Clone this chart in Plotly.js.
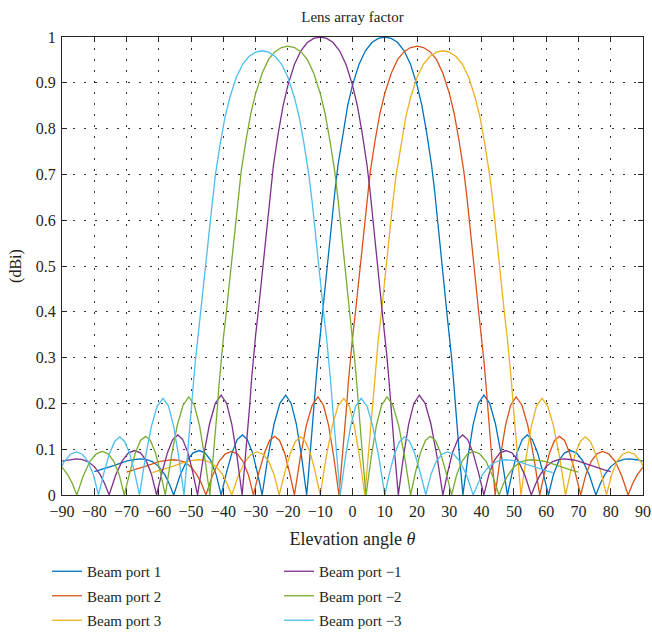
<!DOCTYPE html>
<html>
<head>
<meta charset="utf-8">
<script src="https://cdn.plot.ly/plotly-3.0.1.min.js"></script>
<style>html,body{margin:0;padding:0;background:#fff;}#chart{width:652px;height:635px;}</style>
</head>
<body>
<div id="chart"></div>
<script>
// ---- Data ----
const xTicks = [-90,-80,-70,-60,-50,-40,-30,-20,-10,0,10,20,30,40,50,60,70,80,90];
const xTickText = ['\u221290','\u221280','\u221270','\u221260','\u221250','\u221240','\u221230','\u221220','\u221210','0','10','20','30','40','50','60','70','80','90'];
const yTicks = [0,0.1,0.2,0.3,0.4,0.5,0.6,0.7,0.8,0.9,1];
const yTickText = ['0','0.1','0.2','0.3','0.4','0.5','0.6','0.7','0.8','0.9','1'];

const seriesNames = ['Beam port 1','Beam port 2','Beam port 3','Beam port \u22121','Beam port \u22122','Beam port \u22123'];

// Beam port 1
const beam1X = [-80,-78,-76,-74,-72,-70,-68,-65.7,-64,-62,-60,-58.2,-56.8,-55.4,-53.4,-51.4,-49.4,-47.5,-45.7,-44,-42.3,-40.7,-39,-37.3,-35.7,-34.1,-32.6,-31,-29.5,-28,-26.2,-24.3,-22.5,-20.7,-19,-17.4,-15.8,-14.2,-13.7,-13.2,-12.5,-11.8,-11.3,-10.7,-10,-9.2,-8.5,-7.8,-7,-6.3,-5.5,-4.5,-3,-1.5,0,2,4,6,8,
  10,
  12,14,16,18,20,21.5,23,24.5,25.5,26.3,27,27.8,28.5,29.2,30,30.7,31.3,31.8,32.5,33.2,33.7,34.2,35.8,37.4,39,40.7,42.5,44.3,46.2,48,49.5,51,52.6,54.1,55.7,57.3,59,60.7,62.3,64,65.7,67.5,69.4,71.4,73.4,75.4,76.8,78.2,80,82,84,85.7,88,90];
const beam1Y = [0.051,0.055,0.06,0.064,0.069,0.074,0.077,0.079,0.078,0.073,0.062,0.045,0.025,0,0.043,0.074,0.092,0.097,0.092,0.076,0.046,0,0.05,0.093,0.121,0.131,0.121,0.093,0.05,0,0.083,0.155,0.2,0.218,0.2,0.155,0.085,0,0.04,0.08,0.14,0.2,0.25,0.3,0.35,0.4,0.45,0.5,0.55,0.6,0.66,0.72,0.79,0.85,0.895,0.94,0.97,0.988,0.997,
  1.0,
  0.997,0.988,0.97,0.94,0.895,0.85,0.79,0.72,0.66,0.6,0.55,0.5,0.45,0.4,0.35,0.3,0.25,0.2,0.14,0.08,0.04,0,0.085,0.155,0.2,0.218,0.2,0.155,0.083,0,0.05,0.093,0.121,0.131,0.121,0.093,0.05,0,0.046,0.076,0.092,0.097,0.092,0.074,0.043,0,0.025,0.045,0.062,0.073,0.078,0.079,0.077,0.074];

// Beam port 2
const beam2X = [-70,-68,-66,-64,-62,-60,-58,-55.7,-54,-52,-50,-48.2,-46.8,-45.4,-43.4,-41.4,-39.4,-37.5,-35.7,-34,-32.3,-30.7,-29,-27.3,-25.7,-24.1,-22.6,-21,-19.5,-18,-16.2,-14.3,-12.5,-10.7,-9,-7.4,-5.8,-4.2,-3.7,-3.2,-2.5,-1.8,-1.3,-0.7,0,0.8,1.5,2.2,3,3.7,4.5,5.5,7,8.5,10,12,14,16,18,
  20,
  22,24,26,28,30,31.5,33,34.5,35.5,36.3,37,37.8,38.5,39.2,40,40.7,41.3,41.8,42.5,43.2,43.7,44.2,45.8,47.4,49,50.7,52.5,54.3,56.2,58,59.5,61,62.6,64.1,65.7,67.3,69,70.7,72.3,74,75.7,77.5,79.4,81.4,83.4,85.4,86.8,88.2,90];
const beam2Y = [0.05,0.054,0.059,0.063,0.068,0.073,0.075,0.077,0.076,0.072,0.061,0.044,0.025,0,0.042,0.073,0.09,0.095,0.09,0.074,0.045,0,0.049,0.091,0.119,0.128,0.119,0.091,0.049,0,0.081,0.152,0.196,0.214,0.196,0.152,0.083,0,0.039,0.078,0.137,0.196,0.245,0.294,0.343,0.392,0.441,0.49,0.539,0.588,0.647,0.706,0.774,0.833,0.877,0.921,0.951,0.968,0.977,
  0.98,
  0.977,0.968,0.951,0.921,0.877,0.833,0.774,0.706,0.647,0.588,0.539,0.49,0.441,0.392,0.343,0.294,0.245,0.196,0.137,0.078,0.039,0,0.083,0.152,0.196,0.214,0.196,0.152,0.081,0,0.049,0.091,0.119,0.128,0.119,0.091,0.049,0,0.045,0.074,0.09,0.095,0.09,0.073,0.042,0,0.025,0.044,0.061];

// Beam port 3
const beam3X = [-62,-60,-58,-56,-54,-52,-50,-47.7,-46,-44,-42,-40.2,-38.8,-37.4,-35.4,-33.4,-31.4,-29.5,-27.7,-26,-24.3,-22.7,-21,-19.3,-17.7,-16.1,-14.6,-13,-11.5,-10,-8.2,-6.3,-4.5,-2.7,-1,0.6,2.2,3.8,4.3,4.8,5.5,6.2,6.7,7.3,8,8.8,9.5,10.2,11,11.7,12.5,13.5,15,16.5,18,20,22,24,26,
  28,
  30,32,34,36,38,39.5,41,42.5,43.5,44.3,45,45.8,46.5,47.2,48,48.7,49.3,49.8,50.5,51.2,51.7,52.2,53.8,55.4,57,58.7,60.5,62.3,64.2,66,67.5,69,70.6,72.1,73.7,75.3,77,78.7,80.3,82,83.7,85.5,87.4,89.4,90];
const beam3Y = [0.049,0.053,0.058,0.062,0.067,0.072,0.075,0.077,0.076,0.071,0.06,0.044,0.024,0,0.042,0.072,0.089,0.094,0.089,0.074,0.045,0,0.049,0.09,0.117,0.127,0.117,0.09,0.049,0,0.081,0.15,0.194,0.211,0.194,0.15,0.082,0,0.039,0.078,0.136,0.194,0.243,0.291,0.34,0.388,0.437,0.485,0.534,0.582,0.64,0.698,0.766,0.825,0.868,0.912,0.941,0.958,0.967,
  0.97,
  0.967,0.958,0.941,0.912,0.868,0.825,0.766,0.698,0.64,0.582,0.534,0.485,0.437,0.388,0.34,0.291,0.243,0.194,0.136,0.078,0.039,0,0.082,0.15,0.194,0.211,0.194,0.15,0.081,0,0.049,0.09,0.117,0.127,0.117,0.09,0.049,0,0.045,0.074,0.089,0.094,0.089,0.072,0.063];

// Beam port -1
const beamM1X = [-90,-88,-85.7,-84,-82,-80,-78.2,-76.8,-75.4,-73.4,-71.4,-69.4,-67.5,-65.7,-64,-62.3,-60.7,-59,-57.3,-55.7,-54.1,-52.6,-51,-49.5,-48,-46.2,-44.3,-42.5,-40.7,-39,-37.4,-35.8,-34.2,-33.7,-33.2,-32.5,-31.8,-31.3,-30.7,-30,-29.2,-28.5,-27.8,-27,-26.3,-25.5,-24.5,-23,-21.5,-20,-18,-16,-14,-12,
  -10,
  -8,-6,-4,-2,0,1.5,3,4.5,5.5,6.3,7,7.8,8.5,9.2,10,10.7,11.3,11.8,12.5,13.2,13.7,14.2,15.8,17.4,19,20.7,22.5,24.3,26.2,28,29.5,31,32.6,34.1,35.7,37.3,39,40.7,42.3,44,45.7,47.5,49.4,51.4,53.4,55.4,56.8,58.2,60,62,64,65.7,68,70,72,74,76,78,80];
const beamM1Y = [0.074,0.077,0.079,0.078,0.073,0.062,0.045,0.025,0,0.043,0.074,0.092,0.097,0.092,0.076,0.046,0,0.05,0.093,0.121,0.131,0.121,0.093,0.05,0,0.083,0.155,0.2,0.218,0.2,0.155,0.085,0,0.04,0.08,0.14,0.2,0.25,0.3,0.35,0.4,0.45,0.5,0.55,0.6,0.66,0.72,0.79,0.85,0.895,0.94,0.97,0.988,0.997,
  1.0,
  0.997,0.988,0.97,0.94,0.895,0.85,0.79,0.72,0.66,0.6,0.55,0.5,0.45,0.4,0.35,0.3,0.25,0.2,0.14,0.08,0.04,0,0.085,0.155,0.2,0.218,0.2,0.155,0.083,0,0.05,0.093,0.121,0.131,0.121,0.093,0.05,0,0.046,0.076,0.092,0.097,0.092,0.074,0.043,0,0.025,0.045,0.062,0.073,0.078,0.079,0.077,0.074,0.069,0.064,0.06,0.055,0.051];

// Beam port -2
const beamM2X = [-90,-88.2,-86.8,-85.4,-83.4,-81.4,-79.4,-77.5,-75.7,-74,-72.3,-70.7,-69,-67.3,-65.7,-64.1,-62.6,-61,-59.5,-58,-56.2,-54.3,-52.5,-50.7,-49,-47.4,-45.8,-44.2,-43.7,-43.2,-42.5,-41.8,-41.3,-40.7,-40,-39.2,-38.5,-37.8,-37,-36.3,-35.5,-34.5,-33,-31.5,-30,-28,-26,-24,-22,
  -20,
  -18,-16,-14,-12,-10,-8.5,-7,-5.5,-4.5,-3.7,-3,-2.2,-1.5,-0.8,0,0.7,1.3,1.8,2.5,3.2,3.7,4.2,5.8,7.4,9,10.7,12.5,14.3,16.2,18,19.5,21,22.6,24.1,25.7,27.3,29,30.7,32.3,34,35.7,37.5,39.4,41.4,43.4,45.4,46.8,48.2,50,52,54,55.7,58,60,62,64,66,68,70];
const beamM2Y = [0.061,0.044,0.025,0,0.042,0.073,0.09,0.095,0.09,0.074,0.045,0,0.049,0.091,0.119,0.128,0.119,0.091,0.049,0,0.081,0.152,0.196,0.214,0.196,0.152,0.083,0,0.039,0.078,0.137,0.196,0.245,0.294,0.343,0.392,0.441,0.49,0.539,0.588,0.647,0.706,0.774,0.833,0.877,0.921,0.951,0.968,0.977,
  0.98,
  0.977,0.968,0.951,0.921,0.877,0.833,0.774,0.706,0.647,0.588,0.539,0.49,0.441,0.392,0.343,0.294,0.245,0.196,0.137,0.078,0.039,0,0.083,0.152,0.196,0.214,0.196,0.152,0.081,0,0.049,0.091,0.119,0.128,0.119,0.091,0.049,0,0.045,0.074,0.09,0.095,0.09,0.073,0.042,0,0.025,0.044,0.061,0.072,0.076,0.077,0.075,0.073,0.068,0.063,0.059,0.054,0.05];

// Beam port -3
const beamM3X = [-90,-89.4,-87.4,-85.5,-83.7,-82,-80.3,-78.7,-77,-75.3,-73.7,-72.1,-70.6,-69,-67.5,-66,-64.2,-62.3,-60.5,-58.7,-57,-55.4,-53.8,-52.2,-51.7,-51.2,-50.5,-49.8,-49.3,-48.7,-48,-47.2,-46.5,-45.8,-45,-44.3,-43.5,-42.5,-41,-39.5,-38,-36,-34,-32,-30,
  -28,
  -26,-24,-22,-20,-18,-16.5,-15,-13.5,-12.5,-11.7,-11,-10.2,-9.5,-8.8,-8,-7.3,-6.7,-6.2,-5.5,-4.8,-4.3,-3.8,-2.2,-0.6,1,2.7,4.5,6.3,8.2,10,11.5,13,14.6,16.1,17.7,19.3,21,22.7,24.3,26,27.7,29.5,31.4,33.4,35.4,37.4,38.8,40.2,42,44,46,47.7,50,52,54,56,58,60,62];
const beamM3Y = [0.063,0.072,0.089,0.094,0.089,0.074,0.045,0,0.049,0.09,0.117,0.127,0.117,0.09,0.049,0,0.081,0.15,0.194,0.211,0.194,0.15,0.082,0,0.039,0.078,0.136,0.194,0.243,0.291,0.34,0.388,0.437,0.485,0.534,0.582,0.64,0.698,0.766,0.825,0.868,0.912,0.941,0.958,0.967,
  0.97,
  0.967,0.958,0.941,0.912,0.868,0.825,0.766,0.698,0.64,0.582,0.534,0.485,0.437,0.388,0.34,0.291,0.243,0.194,0.136,0.078,0.039,0,0.082,0.15,0.194,0.211,0.194,0.15,0.081,0,0.049,0.09,0.117,0.127,0.117,0.09,0.049,0,0.045,0.074,0.089,0.094,0.089,0.072,0.042,0,0.024,0.044,0.06,0.071,0.076,0.077,0.075,0.072,0.067,0.062,0.058,0.053,0.049];

// ---- Styling ----
const colors = ['#0072BD','#D95319','#EDB120','#7E2F8E','#77AC30','#4DBEEE'];
const FONT = 'Liberation Serif, Times New Roman, serif';

const xs = [beam1X, beam2X, beam3X, beamM1X, beamM2X, beamM3X];
const ys = [beam1Y, beam2Y, beam3Y, beamM1Y, beamM2Y, beamM3Y];
const traces = [];
for (let i = 0; i < 6; i++) {
  traces.push({
    type: 'scatter', mode: 'lines',
    x: xs[i], y: ys[i],
    name: seriesNames[i],
    legend: i < 3 ? 'legend' : 'legend2',
    legendgroup: 'g' + i,
    line: {color: colors[i], width: 1.3},
    cliponaxis: true,
    hoverinfo: 'skip'
  });
}

const axisCommon = {
  showline: true, linecolor: '#262626', linewidth: 1, mirror: 'ticks',
  ticks: 'inside', ticklen: 5, tickwidth: 1, tickcolor: '#262626',
  showgrid: true, gridcolor: '#333333', gridwidth: 1, griddash: '2px,9px',
  zeroline: false,
  tickfont: {family: FONT, size: 16, color: '#231f20'}
};

const legendFont = {family: FONT, size: 15, color: '#231f20'};

const layout = {
  width: 652, height: 635,
  paper_bgcolor: '#ffffff', plot_bgcolor: '#ffffff',
  margin: {l: 62, r: 9, t: 37, b: 140, autoexpand: false},
  font: {family: FONT, color: '#231f20'},
  title: {text: 'Lens array factor', font: {family: FONT, size: 15, color: '#231f20'},
          x: 0.5, xref: 'paper', xanchor: 'center', y: 1 - 17/635, yref: 'container', yanchor: 'middle'},
  xaxis: Object.assign({}, axisCommon, {
    range: [-90, 90], tickvals: xTicks, ticktext: xTickText, ticklabelstandoff: 2,
    title: {text: 'Elevation angle <i>\u03b8</i>', font: {family: FONT, size: 18, color: '#231f20'}, standoff: 13}
  }),
  yaxis: Object.assign({}, axisCommon, {
    range: [0, 1], tickvals: yTicks, ticktext: yTickText, ticklabelstandoff: 2,
    title: {text: '(dBi)', font: {family: FONT, size: 16, color: '#231f20'}, standoff: 10}
  }),
  showlegend: true,
  legend: {x: (47 - 62) / 581, xanchor: 'left', y: (495 - 555) / 458, yanchor: 'top',
           orientation: 'v', bgcolor: 'rgba(0,0,0,0)', borderwidth: 0, tracegroupgap: 2,
           font: legendFont},
  legend2: {x: (279 - 62) / 581, xanchor: 'left', y: (495 - 555) / 458, yanchor: 'top',
           orientation: 'v', bgcolor: 'rgba(0,0,0,0)', borderwidth: 0, tracegroupgap: 2,
           font: legendFont}
};

Plotly.newPlot('chart', traces, layout, {displayModeBar: false, staticPlot: true});
</script>
</body>
</html>
